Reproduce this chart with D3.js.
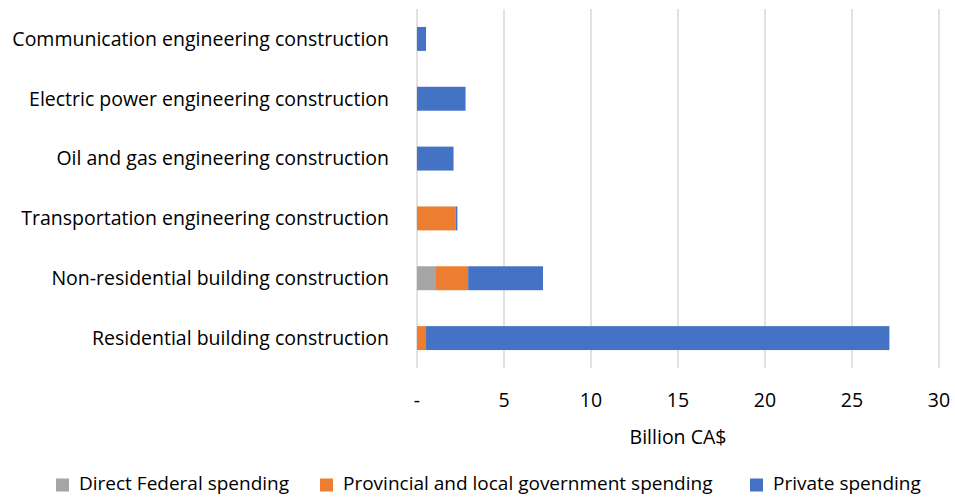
<!DOCTYPE html>
<html>
<head>
<meta charset="utf-8">
<script src="https://cdn.jsdelivr.net/npm/d3@7"></script>
<style>
  body { margin: 0; background: #fff; }
  text { font-family: "Open Sans", sans-serif; fill: #000; }
</style>
</head>
<body>
<div id="chart"></div>
<script>
// categories, top to bottom
const categories = [
	'Communication engineering construction',
	'Electric power engineering construction',
	'Oil and gas engineering construction',
	'Transportation engineering construction',
	'Non-residential building construction',
	'Residential building construction'
];
// billion CA$
const federal = [0, 0, 0, 0, 1.09, 0];
const provincial = [0, 0, 0, 2.22, 1.85, 0.52];
const privateSp = [0.52, 2.79, 2.1, 0.1, 4.3, 26.63];

const seriesNames = ['Direct Federal spending', 'Provincial and local government spending', 'Private spending'];
const colors = ['#a5a5a5', '#ed7d31', '#4472c4'];
const xTicks = [0, 5, 10, 15, 20, 25, 30];

const WIDTH = 955, HEIGHT = 497;
const FONT = '19.5px';
const plot = { left: 417, right: 939, top: 9, bottom: 368 };

const rows = categories.map((c, i) => ({
	cat: c,
	'Direct Federal spending': federal[i],
	'Provincial and local government spending': provincial[i],
	'Private spending': privateSp[i]
}));
const stacked = d3.stack().keys(seriesNames)(rows);

const x = d3.scaleLinear().domain([0, 30]).range([plot.left, plot.right]);
const y = d3.scaleBand().domain(categories).range([plot.top, plot.bottom]).paddingInner(0.6).paddingOuter(0.3);

const svg = d3.select('#chart').append('svg')
	.attr('width', WIDTH)
	.attr('height', HEIGHT);

// gridlines
svg.append('g')
	.selectAll('line')
	.data(xTicks)
	.join('line')
	.attr('x1', d => x(d)).attr('x2', d => x(d))
	.attr('y1', plot.top).attr('y2', plot.bottom)
	.attr('stroke', '#d9d9d9')
	.attr('stroke-width', 1.5);

// bars
svg.append('g')
	.selectAll('g')
	.data(stacked)
	.join('g')
	.attr('fill', (d, i) => colors[i])
	.selectAll('rect')
	.data(d => d)
	.join('rect')
	.attr('x', d => x(d[0]))
	.attr('width', d => x(d[1]) - x(d[0]))
	.attr('y', d => y(d.data.cat))
	.attr('height', y.bandwidth());

// category labels
svg.append('g')
	.selectAll('text')
	.data(categories)
	.join('text')
	.attr('x', 389)
	.attr('y', d => y(d) + y.bandwidth() / 2)
	.attr('dy', '0.35em')
	.attr('text-anchor', 'end')
	.style('font-size', FONT)
	.text(d => d);

// x tick labels
svg.append('g')
	.selectAll('text')
	.data(xTicks)
	.join('text')
	.attr('x', d => x(d))
	.attr('y', 400)
	.attr('dy', '0.35em')
	.attr('text-anchor', 'middle')
	.style('font-size', FONT)
	.text(d => d === 0 ? '-' : d);

svg.append('text')
	.attr('x', (plot.left + plot.right) / 2)
	.attr('y', 437)
	.attr('dy', '0.35em')
	.attr('text-anchor', 'middle')
	.style('font-size', FONT)
	.text('Billion CA$');

// legend
const legendX = [56, 320, 750];
const legend = svg.append('g')
	.selectAll('g')
	.data(seriesNames)
	.join('g')
	.attr('transform', (d, i) => `translate(${legendX[i]},484)`);
legend.append('rect')
	.attr('x', 0).attr('y', -5.5)
	.attr('width', 13).attr('height', 13)
	.attr('fill', (d, i) => colors[i]);
legend.append('text')
	.attr('x', 23)
	.attr('dy', '0.3em')
	.style('font-size', '19px')
	.text(d => d);
</script>
</body>
</html>
